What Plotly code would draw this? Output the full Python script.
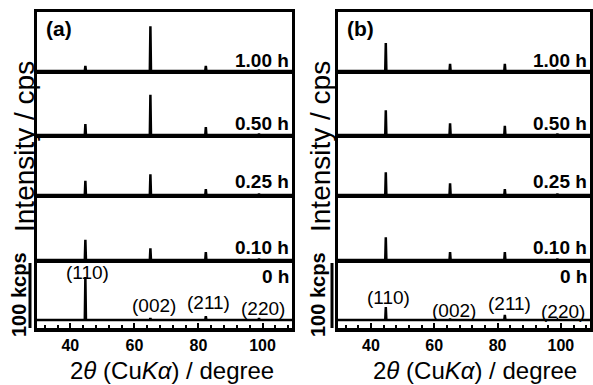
import plotly.graph_objects as go

W, H = 593, 385

# ---------------- data ----------------
times = ["1.00 h", "0.50 h", "0.25 h", "0.10 h", "0 h"]
peak_pos = [44.7, 65.0, 82.3, 98.9]
hkl = ["(110)", "(002)", "(211)", "(220)"]
x_ticks = [40, 60, 80, 100]

# peak intensities (kcps) for each pattern, rows follow `times`
int_a = [
    [8, 69, 8, 2],
    [17, 62, 12, 2],
    [22, 32, 9, 2],
    [31, 18, 12, 2],
    [66, 3, 6, 3],
]
int_b = [
    [43, 11, 11, 2],
    [38, 18, 14, 2],
    [35, 18, 9, 2],
    [35, 12, 12, 2],
    [20, 2, 8, 1],
]

# ---------------- layout helpers ----------------
FONT = "Liberation Sans"
XR = [29.6, 109.2]
rows_px = [(12, 71), (71, 135), (135, 195), (195, 260), (260, 328)]
base_off_px = [0, 0, 0, 0, 8]
px_per_kcps = 0.65
panels = [(37, 292, int_a), (338, 590, int_b)]


def px2x(px):
    return px / W


def px2y(py):
    return 1 - py / H


def stick_profile(pos, heights, hw=0.18):
    xs, ys = [XR[0]], [0]
    for p, h in zip(pos, heights):
        xs += [p - hw, p, p + hw]
        ys += [0, h, 0]
    xs.append(XR[1])
    ys.append(0)
    return xs, ys


fig = go.Figure()
layout = {}
annotations = []
shapes = []

for pi, (xl, xr, ints) in enumerate(panels):
    for r in range(5):
        n = pi * 5 + r + 1
        xs, ys = stick_profile(peak_pos, ints[r])
        xname = "x" if n == 1 else f"x{n}"
        yname = "y" if n == 1 else f"y{n}"
        fig.add_trace(go.Scatter(x=xs, y=ys, mode="lines",
                                 line=dict(color="black", width=2.5),
                                 xaxis=xname, yaxis=yname,
                                 showlegend=False, hoverinfo="skip"))
        top, bot = rows_px[r]
        hpx = bot - top
        off = base_off_px[r]
        bottom = r == 4
        xa = dict(domain=[px2x(xl), px2x(xr)], range=XR, anchor=yname,
                  showline=True, mirror=(r == 0), linewidth=3, linecolor="black",
                  showgrid=False, zeroline=False, fixedrange=True)
        if bottom:
            xa.update(tickmode="linear", tick0=0, dtick=20, ticks="inside",
                      ticklen=5, tickwidth=2, tickcolor="black",
                      linewidth=3.5,
                      tickfont=dict(family=FONT, size=16, color="black", weight="bold"),
                      minor=dict(tickmode="linear", tick0=0, dtick=4, ticks="inside",
                                 ticklen=3, tickwidth=1.5, tickcolor="black"))
        else:
            xa.update(showticklabels=False, ticks="")
        ya = dict(domain=[px2y(bot), px2y(top)],
                  range=[-off / px_per_kcps, (hpx - off) / px_per_kcps],
                  anchor=xname, showline=True, mirror=True, linewidth=3,
                  linecolor="black", showgrid=False, zeroline=False,
                  showticklabels=False, ticks="", fixedrange=True)
        layout["xaxis" if n == 1 else f"xaxis{n}"] = xa
        layout["yaxis" if n == 1 else f"yaxis{n}"] = ya

    # time labels
    label_y = [61, 123, 182, 247, 276]
    for r, t in enumerate(times):
        annotations.append(dict(text=t, x=px2x(xr - 1), y=px2y(label_y[r]),
                                xref="paper", yref="paper", xanchor="right",
                                yanchor="middle", showarrow=False,
                                font=dict(family=FONT, size=19, color="black",
                                          weight="bold")))

    # panel letter
    annotations.append(dict(text="(a)" if pi == 0 else "(b)", x=px2x(xl + 7),
                            y=px2y(28), xref="paper", yref="paper",
                            xanchor="left", yanchor="middle", showarrow=False,
                            font=dict(family=FONT, size=21, color="black",
                                      weight="bold")))

    # hkl labels on the bottom pattern
    bx = "x5" if pi == 0 else "x10"
    if pi == 0:
        hkl_pos = [(45.5, 272), (66.0, 305), (83.0, 302), (100.0, 308)]
    else:
        hkl_pos = [(45.4, 297), (66.3, 310), (83.8, 303), (100.6, 311)]
    for lab, (hx, hy) in zip(hkl, hkl_pos):
        annotations.append(dict(text=lab, x=hx, y=px2y(hy), xref=bx, yref="paper",
                                xanchor="center", yanchor="middle", showarrow=False,
                                font=dict(family=FONT, size=19, color="black")))

    # axis titles
    cx = 172 if pi == 0 else 475
    annotations.append(dict(text="2<i>θ</i> (Cu<i>Kα</i>) / degree", x=px2x(cx),
                            y=px2y(370), xref="paper", yref="paper",
                            xanchor="center", yanchor="middle", showarrow=False,
                            font=dict(family=FONT, size=24, color="black")))
    ix = 24 if pi == 0 else 320
    annotations.append(dict(text="Intensity / cps", x=px2x(ix), y=px2y(147),
                            xref="paper", yref="paper", textangle=-90,
                            xanchor="center", yanchor="middle", showarrow=False,
                            font=dict(family=FONT, size=28, color="black")))
    kx = 19 if pi == 0 else 318
    annotations.append(dict(text="100 kcps", x=px2x(kx), y=px2y(295),
                            xref="paper", yref="paper", textangle=-90,
                            xanchor="center", yanchor="middle", showarrow=False,
                            font=dict(family=FONT, size=20, color="black",
                                      weight="bold")))
    sx = 30 if pi == 0 else 332
    shapes.append(dict(type="line", xref="paper", yref="paper",
                       x0=px2x(sx), x1=px2x(sx), y0=px2y(263), y1=px2y(328),
                       line=dict(color="black", width=3)))

fig.update_layout(**layout)
fig.update_layout(width=W, height=H, margin=dict(l=0, r=0, t=0, b=0),
                  paper_bgcolor="white", plot_bgcolor="white",
                  annotations=annotations, shapes=shapes, showlegend=False)

fig.write_html("out.html", config={"displayModeBar": False},
               post_script="document.body.style.margin='0';document.body.style.overflow='hidden';")
